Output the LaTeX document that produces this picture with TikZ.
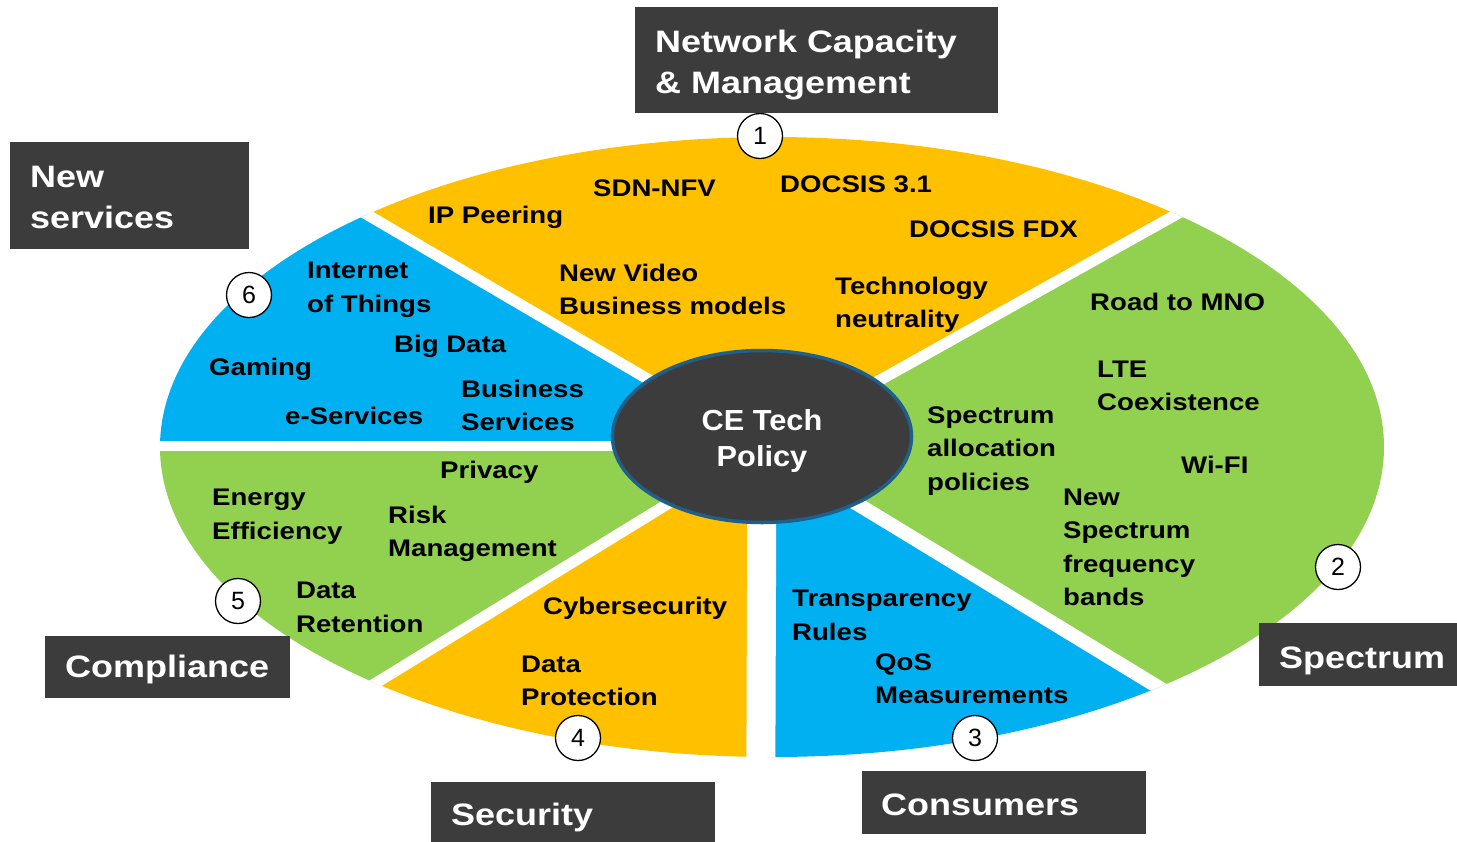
\documentclass[tikz,border=0pt]{standalone}
\usepackage{fontspec}
\setmainfont{Liberation Sans}
\newfontfamily\bodyf{Liberation Sans}[FakeStretch=1.15]
\newfontfamily\labf{Liberation Sans}[FakeStretch=1.16]
\newfontfamily\cef{Liberation Sans}[FakeStretch=1.06]
\usetikzlibrary{shapes.geometric}
\definecolor{cyellow}{HTML}{FFC000}
\definecolor{cblue}{HTML}{00B0F0}
\definecolor{cgreen}{HTML}{92D050}
\definecolor{cdark}{HTML}{3C3C3C}
\definecolor{cborder}{HTML}{1F5F8B}
\tikzset{
  body/.style={anchor=base west, inner sep=0pt, align=left, text=black,
    font=\bodyf\bfseries\fontsize{24}{33.5}\selectfont},
  lbox/.style={fill=cdark, draw=none, inner sep=0pt, anchor=north west},
  ltext/.style={anchor=base west, inner sep=0pt, align=left, text=white,
    font=\labf\bfseries\fontsize{31}{41.5}\selectfont},
  num/.style={circle, draw=black, fill=white, line width=1.3pt, minimum size=45pt,
    inner sep=0pt, font=\fontsize{25}{25}\selectfont},
  gap/.style={draw=white, line width=11pt},
}
\begin{document}
\begin{tikzpicture}[x=1pt,y=-1pt]
\useasboundingbox (0,0) rectangle (1457,841);
\coordinate (C) at (762,446);
\coordinate (pA) at (-30,-18);
\coordinate (pB) at (1578,-10);
\coordinate (pL) at (-60,446);
\coordinate (pD) at (-20,926);
\coordinate (pV) at (760,1000);
\coordinate (pE) at (1564,934);
\begin{scope}
  \clip (772,447) ellipse [x radius=612, y radius=310];
  \fill[cyellow] (C) -- (pA) -- (pB) -- cycle;
  \fill[cblue] (C) -- (pA) -- (-60,-18) -- (pL) -- cycle;
  \fill[cgreen] (C) -- (pL) -- (-60,926) -- (pD) -- cycle;
  \fill[cyellow] (C) -- (pD) -- (-20,1000) -- (pV) -- cycle;
  \fill[cblue] (C) -- (pV) -- (1564,1000) -- (pE) -- cycle;
  \fill[cgreen] (C) -- (pE) -- (1600,934) -- (1600,-10) -- (pB) -- cycle;
  \draw[gap] (C) -- (pA);
  \draw[gap] (C) -- (pB);
  \draw[gap, line width=10pt] (C) -- (pL);
  \draw[gap] (C) -- (pD);
  \draw[gap, line width=29pt] (C) -- (pV);
  \draw[gap, line width=14pt] (C) -- (pE);
\end{scope}

\node[ellipse, draw=cborder, line width=3.5pt, fill=cdark, minimum width=299pt,
  minimum height=172pt, inner sep=0pt] (ce) at (762,436.5) {};
\node[anchor=base, inner sep=0pt, align=center, text=white,
  font=\cef\bfseries\fontsize{29}{36}\selectfont] (cetext) at (762,466) {CE Tech\\Policy};

% yellow top (multi-line nodes are placed at the baseline of their last line)
\node[body] (ip) at (428,223) {IP Peering};
\node[body] (sdn) at (593,196) {SDN-NFV};
\node[body] (d31) at (780,192) {DOCSIS 3.1};
\node[body] (fdx) at (909,237) {DOCSIS FDX};
\node[body] (nv) at (559,314.5) {New Video\\Business models};
\node[body] (tn) at (835,327.5) {Technology\\neutrality};
% blue left
\node[body] (iot) at (307,312) {Internet\\of Things};
\node[body] (bd) at (394,352) {Big Data};
\node[body] (gm) at (209,375) {Gaming};
\node[body] (bs) at (461,430.5) {Business\\Services};
\node[body] (es) at (285,424) {e-Services};
% green right
\node[body] (sap) at (927,490) {Spectrum\\allocation\\policies};
\node[body] (rm) at (1090,310) {Road to MNO};
\node[body] (lte) at (1097,410.5) {LTE\\Coexistence};
\node[body] (wifi) at (1181,473) {Wi-FI};
\node[body] (nsf) at (1063,605.5) {New\\Spectrum\\frequency\\bands};
% green left
\node[body] (pr) at (440,478) {Privacy};
\node[body] (ee) at (212,539) {Energy\\Efficiency};
\node[body] (rk) at (388,556.5) {Risk\\Management};
\node[body] (dr) at (296,632) {Data\\Retention};
% yellow bottom
\node[body] (cs) at (543,614) {Cybersecurity};
\node[body] (dp) at (521,705.5) {Data\\Protection};
% blue bottom
\node[body] (tr) at (792,640) {Transparency\\Rules};
\node[body] (qos) at (875,703.5) {QoS\\Measurements};

% number circles
\node[num] (n1) at (760,136) {1};
\node[num] (n2) at (1338,567) {2};
\node[num] (n3) at (975,738) {3};
\node[num] (n4) at (578,738) {4};
\node[num] (n5) at (238,601) {5};
\node[num] (n6) at (249,295) {6};

% label boxes
\node[lbox, minimum width=363pt, minimum height=106pt] (netbox) at (635,7) {};
\node[ltext] (nettext) at (655,93.5) {Network Capacity\\\& Management};
\node[lbox, minimum width=239pt, minimum height=107pt] (newbox) at (10,142) {};
\node[ltext] (newtext) at (30,228.5) {New\\services};
\node[lbox, minimum width=198pt, minimum height=63pt] (specbox) at (1259,623) {};
\node[ltext] (spectext) at (1279,668) {Spectrum};
\node[lbox, minimum width=245pt, minimum height=62pt] (compbox) at (45,636) {};
\node[ltext] (comptext) at (65,677) {Compliance};
\node[lbox, minimum width=284pt, minimum height=60pt] (secbox) at (431,782) {};
\node[ltext] (sectext) at (451,825) {Security};
\node[lbox, minimum width=284pt, minimum height=63pt] (conbox) at (862,771) {};
\node[ltext] (context) at (881,815) {Consumers};
\end{tikzpicture}
\end{document}
